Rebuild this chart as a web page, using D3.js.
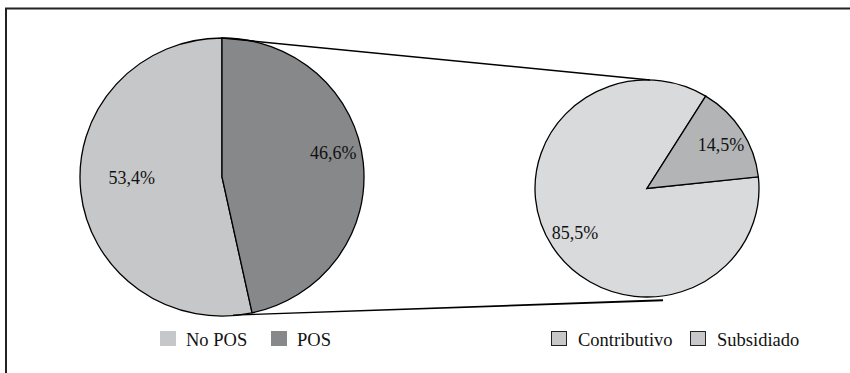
<!DOCTYPE html>
<html>
<head>
<meta charset="utf-8">
<script src="https://cdn.jsdelivr.net/npm/d3@7"></script>
<style>
  html, body { margin: 0; padding: 0; background: #fff; }
  svg { display: block; }
</style>
</head>
<body>
<script>
// left pie: affiliation to POS
const mainLabels = ["No POS", "POS"];
const mainValues = [53.4, 46.6];
const mainColors = ["#c6c7c9", "#87888a"];

// right pie: breakdown of POS
const subLabels = ["Contributivo", "Subsidiado"];
const subValues = [85.5, 14.5];
const subColors = ["#d9dadc", "#b3b4b6"];
const subLegendColor = "#c8c8ca";

const width = 850;
const height = 373;
const font = "'Liberation Serif', 'Times New Roman', Times, 'DejaVu Serif', serif";

const svg = d3.select("body")
  .append("svg")
  .attr("width", width)
  .attr("height", height)
  .attr("font-family", font);

// frame (only top and left edges visible)
svg.append("path")
  .attr("d", `M6,${height} V8.5 H${width}`)
  .attr("fill", "none")
  .attr("stroke", "#222")
  .attr("stroke-width", 2);

const fmt = v => d3.format(".1f")(v).replace(".", ",") + "%";

function drawPie(opts) {
  const { cx, cy, rx, ry, values, colors, startAngle, labelK, nudges } = opts;
  const pie = d3.pie().sort(null).startAngle(startAngle).endAngle(startAngle + 2 * Math.PI);
  const arcs = pie(values);
  const arc = d3.arc().innerRadius(0).outerRadius(rx);
  const labelArc = d3.arc().innerRadius(rx * labelK).outerRadius(rx * labelK);

  const g = svg.append("g").attr("transform", `translate(${cx},${cy})`);
  g.append("g")
    .attr("transform", `scale(1,${ry / rx})`)
    .selectAll("path")
    .data(arcs)
    .join("path")
    .attr("d", arc)
    .attr("fill", (d, i) => colors[i])
    .attr("stroke", "#000")
    .attr("stroke-width", 1.3)
    .attr("vector-effect", "non-scaling-stroke");

  g.selectAll("text")
    .data(arcs)
    .join("text")
    .attr("x", (d, i) => labelArc.centroid(d)[0] + nudges[i][0])
    .attr("y", (d, i) => labelArc.centroid(d)[1] * ry / rx + nudges[i][1])
    .attr("text-anchor", "middle")
    .attr("dy", "0.35em")
    .attr("font-family", font)
    .attr("font-size", 18)
    .attr("fill", "#111")
    .text(d => fmt(d.data));
}

const left = { cx: 222, cy: 177, rx: 142, ry: 139 };
const right = { cx: 647, cy: 188.5, rx: 112, ry: 108.5 };

const mainTotal = d3.sum(mainValues);
drawPie({
  ...left,
  values: mainValues,
  colors: mainColors,
  startAngle: -2 * Math.PI * mainValues[0] / mainTotal,
  labelK: 0.64,
  nudges: [[0, -9], [21, -15]]
});

drawPie({
  ...right,
  values: subValues,
  colors: subColors,
  startAngle: 83.8 * Math.PI / 180,
  labelK: 0.76,
  nudges: [[0, 0], [2, 0]]
});

// connector lines
svg.append("line")
  .attr("x1", left.cx).attr("y1", left.cy - left.ry)
  .attr("x2", right.cx + 3).attr("y2", right.cy - right.ry)
  .attr("stroke", "#000")
  .attr("stroke-width", 1.5);

svg.append("path")
  .attr("d", `M${left.cx + 11},${left.cy + left.ry - 1.5} L${right.cx + 16},${right.cy + right.ry + 2.2} L${right.cx + 16},${right.cy + right.ry + 4.2} L${left.cx + 11},${left.cy + left.ry - 0.2} Z`)
  .attr("fill", "#000");

// legends
function legend(x0, labels, fills, stroke, gaps) {
  const g = svg.append("g").attr("transform", `translate(${x0},331)`);
  let x = 0;
  labels.forEach((l, i) => {
    g.append("rect")
      .attr("x", x + (stroke ? 0.5 : 0)).attr("y", stroke ? 0.5 : 0)
      .attr("width", stroke ? 15 : 16).attr("height", stroke ? 14 : 15)
      .attr("fill", fills[i])
      .attr("stroke", stroke ? "#222" : "none");
    g.append("text")
      .attr("x", x + (stroke ? 27 : 26))
      .attr("y", 14.5)
      .attr("font-family", font)
      .attr("font-size", 18.5)
      .attr("fill", "#111")
      .text(l);
    x += gaps[i];
  });
}

legend(160, mainLabels, mainColors, false, [111, 0]);
legend(551, subLabels, [subLegendColor, subLegendColor], true, [139, 0]);
</script>
</body>
</html>
